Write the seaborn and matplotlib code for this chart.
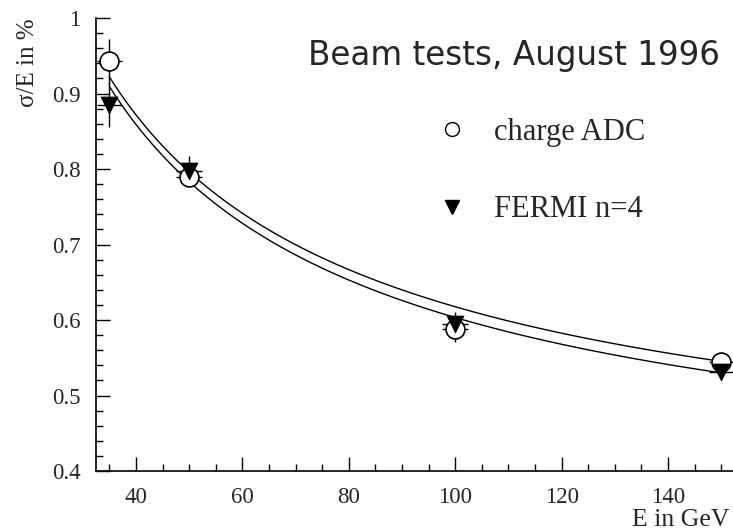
import numpy as np
import pandas as pd
import matplotlib
matplotlib.use("Agg")
import matplotlib.pyplot as plt
from matplotlib.lines import Line2D
from matplotlib.ticker import MultipleLocator, FixedLocator, FixedFormatter
import seaborn as sns

# ---- data ----
energy = [35, 50, 100, 150]                       # GeV
adc_res = [0.9425, 0.790, 0.588, 0.5445]          # charge ADC, sigma/E in %
adc_err = [0.03, 0.013, 0.017, 0.008]
fermi_res = [0.885, 0.797, 0.595, 0.531]          # FERMI n=4
fermi_err = [0.03, 0.02, 0.015, 0.008]
energy_err = [2.4, 2.4, 2.4, 2.4]

# fit parameters: sigma/E = sqrt(a^2/E + b^2)
adc_fit_a, adc_fit_b = 5.025, 0.359
fermi_fit_a, fermi_fit_b = 4.994, 0.3385
fit_range = (35, 150)

ytick_vals = [0.4, 0.5, 0.6, 0.7, 0.8, 0.9, 1.0]
ytick_labels = ["0.4", "0.5", "0.6", "0.7", "0.8", "0.9", "1"]
xtick_vals = [40, 60, 80, 100, 120, 140]

title_text = "Beam tests, August 1996"
legend_labels = ["charge ADC", "FERMI n=4"]
xlabel = "E in GeV"
ylabel = "σ/E in %"

# ---- style ----
sns.set_style("ticks")
plt.rcParams["font.family"] = ["Liberation Serif", "DejaVu Serif"]

fig = plt.figure(figsize=(7.33, 5.32), dpi=100)
ax = fig.add_axes([96 / 733, (532 - 471) / 532, (733 - 96) / 733, (471 - 18) / 532])

df = pd.DataFrame({"E": energy, "adc": adc_res, "adc_err": adc_err,
                   "fermi": fermi_res, "fermi_err": fermi_err, "ex": energy_err})

e_grid = np.linspace(fit_range[0], fit_range[1], 300)
fit_df = pd.DataFrame({
    "E": np.concatenate([e_grid, e_grid]),
    "res": np.concatenate([np.sqrt(adc_fit_a**2 / e_grid + adc_fit_b**2),
                           np.sqrt(fermi_fit_a**2 / e_grid + fermi_fit_b**2)]),
    "series": ["adc"] * len(e_grid) + ["fermi"] * len(e_grid),
})
sns.lineplot(data=fit_df, x="E", y="res", units="series", estimator=None,
             color="black", lw=1.0, ax=ax, zorder=1, legend=False)

# error bars
ax.errorbar(df["E"], df["adc"], yerr=df["adc_err"], xerr=df["ex"], fmt="none",
            ecolor="black", elinewidth=1.0, capsize=0, zorder=2)
ax.errorbar(df["E"], df["fermi"], yerr=df["fermi_err"], xerr=df["ex"], fmt="none",
            ecolor="black", elinewidth=1.0, capsize=0, zorder=2)

sns.scatterplot(data=df, x="E", y="adc", marker="o", s=185, facecolor="white",
                edgecolor="black", linewidth=1.2, ax=ax, zorder=3)
sns.scatterplot(data=df, x="E", y="fermi", marker="v", s=150, color="black",
                edgecolor="black", linewidth=0.5, ax=ax, zorder=4)

# axes
ax.set_xlim(32.5, 152.2)
ax.set_ylim(0.4, 1.0)
ax.xaxis.set_major_locator(FixedLocator(xtick_vals))
ax.xaxis.set_minor_locator(MultipleLocator(5))
ax.yaxis.set_major_locator(FixedLocator(ytick_vals))
ax.yaxis.set_major_formatter(FixedFormatter(ytick_labels))
ax.yaxis.set_minor_locator(MultipleLocator(0.02))
ax.tick_params(which="both", direction="in", width=1.0, color="black",
               top=False, right=False)
ax.tick_params(which="major", length=9.8, labelsize=16.5)
ax.tick_params(which="minor", length=4.8)
ax.tick_params(axis="y", which="major", pad=11)
ax.tick_params(axis="x", which="major", pad=11.5)
for side in ["top", "right"]:
    ax.spines[side].set_visible(False)
for side in ["left", "bottom"]:
    ax.spines[side].set_linewidth(1.2)
    ax.spines[side].set_color("black")

ax.set_xlabel(xlabel, fontsize=18.5, loc="right")
ax.xaxis.set_label_coords((729 - 96) / 637, (471 - 509) / 453)
ax.set_ylabel(ylabel, fontsize=18, loc="top")
ax.yaxis.set_label_coords((39 - 96) / 637, 1.0)

ax.text((720 - 96) / 637, (471 - 55) / 453, title_text, transform=ax.transAxes,
        ha="right", va="center", fontsize=23.5, family=["DejaVu Sans"])

handles = [
    Line2D([], [], marker="o", ls="none", mfc="white", mec="black", mew=1.0, ms=10),
    Line2D([], [], marker="v", ls="none", mfc="black", mec="black", ms=9.5),
]
ax.legend(handles, legend_labels, loc="upper left", bbox_to_anchor=(437 / 733, 1 - 118 / 532),
          bbox_transform=fig.transFigure, frameon=False, fontsize=22, handlelength=1.0,
          handletextpad=0.85, borderpad=0, borderaxespad=0, labelspacing=1.58)

fig.savefig("out.png", dpi=100)
